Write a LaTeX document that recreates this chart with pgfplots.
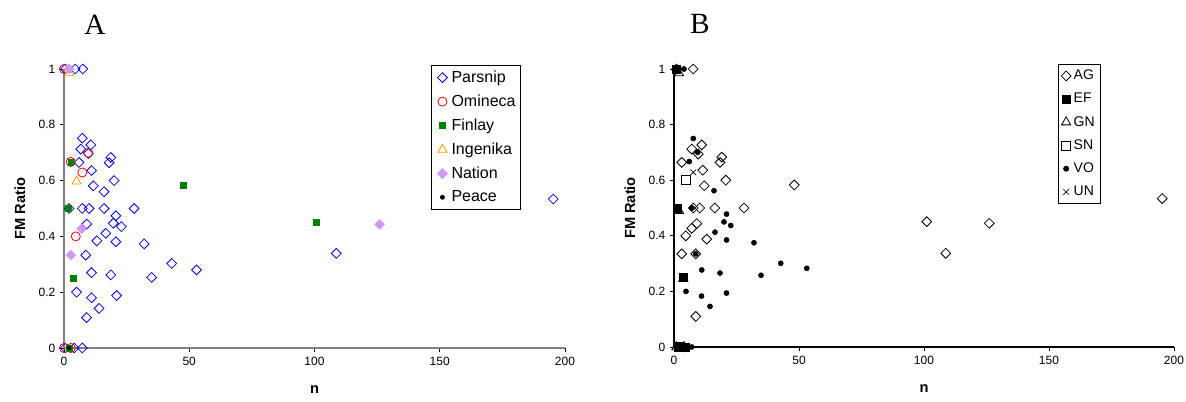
\documentclass[border=0pt]{standalone}
\usepackage{fontspec}
\setmainfont{Liberation Sans}
\newfontfamily\seriffont{Liberation Serif}
\usepackage{pgfplots}
\pgfplotsset{compat=1.18}
\definecolor{cParsnip}{RGB}{0,0,255}
\definecolor{cOmineca}{RGB}{255,0,0}
\definecolor{cFinlay}{RGB}{0,128,0}
\definecolor{cIngenika}{RGB}{255,153,0}
\definecolor{cNation}{RGB}{204,153,255}
\begin{document}
\begin{tikzpicture}
\pgfplotsset{
  myaxis/.style={
    scale only axis, xmin=0, xmax=200, ymin=0, ymax=1,
    axis x line=bottom, axis y line=left,
    axis line style={-, line width=0.9pt},
    xtick={0,50,100,150,200}, xticklabels={0,50,100,150,200},
    ytick={0,0.2,0.4,0.6,0.8,1}, yticklabels={0,0.2,0.4,0.6,0.8,1},
    tick align=outside, major tick length=3pt,
    every tick/.style={black, line width=0.6pt},
    tick label style={font=\fontsize{9}{10}\selectfont},
    clip=false,
    xlabel={n}, ylabel={FM Ratio},
    every axis x label/.style={at={(axis description cs:0.5,-0.15)},anchor=center,font=\fontsize{11}{12}\selectfont\bfseries},
    every axis y label/.style={at={(axis description cs:-0.088,0.5)},rotate=90,anchor=center,font=\fontsize{11}{12}\selectfont\bfseries},
    legend cell align=left,
    legend style={draw=black, line width=0.6pt, inner xsep=3.5pt, inner ysep=2pt, anchor=north west},
  },
  mkA/.style={only marks, /pgfplots/legend image code/.code={\path (0pt,0pt) (10.7pt,0pt); \draw[##1] plot coordinates {(6.2pt,0pt)};}},
}
% ---------------- Panel A ----------------
\begin{axis}[myaxis, at={(0pt,0pt)}, anchor=south west,
  width=375.75pt, height=209.25pt,
  axis line style={gray},
  legend style={at={(rel axis cs:0.732,1.014)}, font=\fontsize{12}{14}\selectfont, row sep=3.8pt, inner xsep=2pt}]
\addplot[mkA, mark=square, mark size=2.6pt, mark options={rotate=45, draw=cParsnip, line width=0.6pt}] coordinates {
(0.5,1)(4.5,1)(7.5,1)
(7.3,0.752)(10.7,0.728)(6.7,0.713)(9.7,0.697)(6,0.665)(18.7,0.683)(18,0.664)(11,0.636)(20,0.6)(11.7,0.581)(16,0.56)
(2,0.5)(7.3,0.5)(10,0.5)(16,0.5)(28,0.5)(20.7,0.474)(19.7,0.447)(22.9,0.435)(9.1,0.444)(16.7,0.411)(13.1,0.384)(20.7,0.381)(32,0.373)(8.7,0.333)
(43,0.303)(52.9,0.28)(35,0.253)(11,0.27)(18.7,0.262)(5,0.2)(11,0.18)(21,0.188)(14,0.142)(9,0.109)(108.7,0.339)(195.3,0.534)
(0.5,0)(4,0)(7.3,0)
};
\addlegendentry{Parsnip}
\addplot[mkA, mark=o, mark size=3.4pt, mark options={draw=cOmineca, line width=0.6pt}] coordinates {
(0,1)(9.7,0.7)(7.3,0.629)(4.7,0.40)(2.7,0.667)(0,0)(2.7,0)
};
\addlegendentry{Omineca}
\addplot[mkA, mark=square*, mark size=2.2pt, mark options={draw=cFinlay, fill=cFinlay}] coordinates {
(47.5,0.583)(100.8,0.45)(2.7,0.667)(1.7,0.5)(3.6,0.25)(2,0)
};
\addlegendentry{Finlay}
\addplot[mkA, mark=triangle, mark size=4pt, mark options={draw=cIngenika, line width=0.6pt}] coordinates {
(2,0.985)(5,0.597)
};
\addlegendentry{Ingenika}
\addplot[mkA, mark=square*, mark size=2.6pt, mark options={rotate=45, draw=cNation, fill=cNation}] coordinates {
(2,1)(7,0.427)(2.7,0.333)(126,0.443)
};
\addlegendentry{Nation}
\addplot[mkA, mark=*, mark size=1.5pt, mark options={draw=black, fill=black}] coordinates {
(2,0)
};
\addlegendentry{Peace}
\node[font=\seriffont\fontsize{22}{24}\selectfont] at (rel axis cs:0.062,1.158) {A};
\end{axis}
% ---------------- Panel B ----------------
\begin{axis}[myaxis, at={(457.5pt,0.75pt)}, anchor=south west,
  width=375pt, height=208.5pt,
  axis line style={black},
  legend style={at={(rel axis cs:0.767,1.017)}, font=\fontsize{10.5}{12}\selectfont, row sep=4.6pt, inner xsep=2.5pt}]
\addplot[only marks, mark=square, mark size=2.6pt, mark options={rotate=45, draw=black, line width=0.6pt}] coordinates {
(7.7,1)(7.1,0.712)(11.1,0.727)(9.7,0.694)(3.1,0.664)(19.1,0.683)(18.4,0.664)(11.5,0.636)(20.7,0.6)(12.1,0.58)
(7.7,0.5)(10.3,0.5)(16.3,0.5)(28,0.5)(48.1,0.583)(9.1,0.444)(7.1,0.427)(4.7,0.4)(13.1,0.388)(3.1,0.335)(8.7,0.335)(8.7,0.11)
(101.1,0.451)(126.1,0.445)(108.7,0.337)(195.3,0.534)(4,0)(1,1)
};
\addlegendentry{AG}
\addplot[only marks, mark=square*, mark size=3pt, mark options={draw=black, fill=black}] coordinates {
(1,1)(1.5,0.5)(3.7,0.25)(2,0)(4.5,0)
};
\addlegendentry{EF}
\addplot[only marks, mark=triangle, mark size=4pt, mark options={draw=black, fill=white, line width=0.6pt}] coordinates {
(2,0.985)(2,0.49)(3.7,0.245)(1,0)(4,0)
};
\addlegendentry{GN}
\addplot[only marks, mark=square, mark size=3.4pt, mark options={draw=black, line width=0.6pt}] coordinates {
(4.8,0.6)(2,0)
};
\addlegendentry{SN}
\addplot[only marks, mark=*, mark size=1.9pt, mark options={draw=black, fill=black}] coordinates {
(7.7,0.75)(6.1,0.667)(9.5,0.70)(16,0.562)(7.2,0.5)(21,0.478)(20,0.45)(22.7,0.437)(16.4,0.413)(21,0.385)(32,0.375)(8.7,0.335)
(42.7,0.301)(53.1,0.283)(11.1,0.277)(18.4,0.266)(34.8,0.258)(4.8,0.2)(11,0.183)(21,0.194)(14.4,0.146)(7.1,0)(2.1,0.5)(2,1)(4,1)(3,0)(5,0)
};
\addlegendentry{VO}
\addplot[only marks, mark=x, mark size=3pt, mark options={draw=black, line width=0.5pt}] coordinates {
(7.7,0.628)(3,1)(3,0)
};
\addlegendentry{UN}
\node[font=\seriffont\fontsize{22}{24}\selectfont] at (rel axis cs:0.052,1.162) {B};
\end{axis}
\pgfresetboundingbox
\useasboundingbox (-48pt,-40.5pt) rectangle (841.5pt,261pt);
\end{tikzpicture}
\end{document}
